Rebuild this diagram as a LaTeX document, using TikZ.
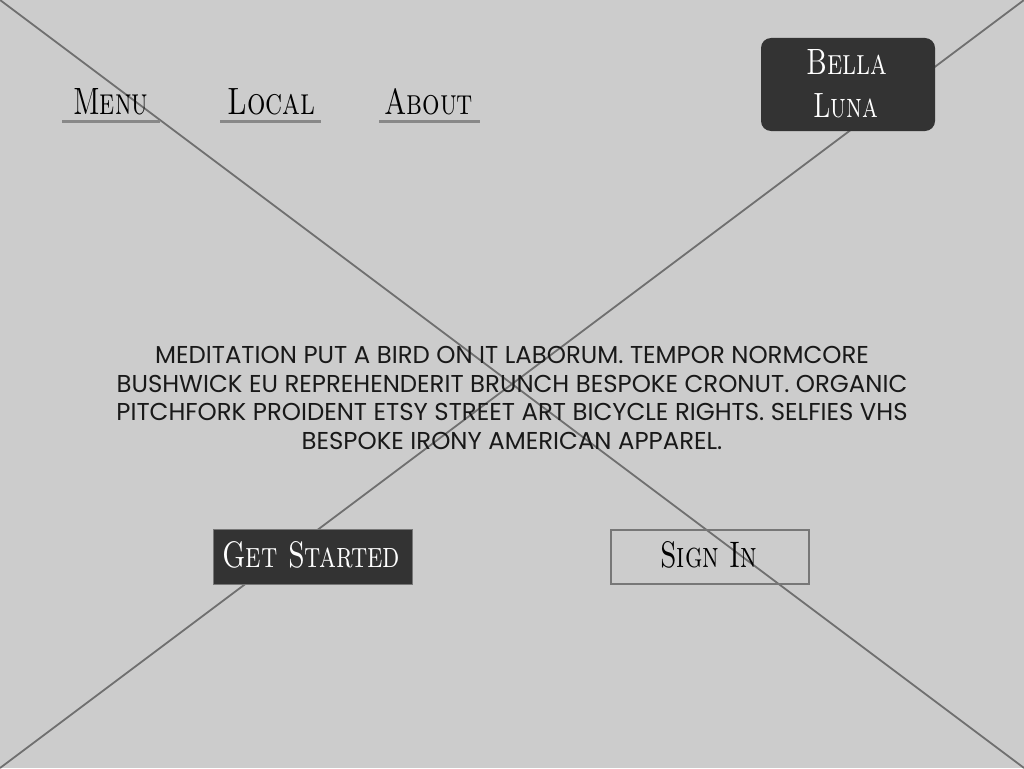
\documentclass[tikz,border=0pt]{standalone}
\usepackage{fontspec}
\usepackage{graphicx}
\newfontfamily\bodyfont{Poppins}
\definecolor{bg}{HTML}{CCCCCC}
\definecolor{dark}{HTML}{333333}
\definecolor{xline}{HTML}{707070}
\definecolor{uline}{HTML}{888888}
\definecolor{bline}{HTML}{777777}
\tikzset{
  navtext/.style={anchor=south west, inner sep=0pt, text=black},
  underl/.style={draw=uline, line width=3pt},
  bodyline/.style={anchor=base, inner sep=0pt, font=\bodyfont\fontsize{24.4}{29}\selectfont, text=black!90},
  darkbox/.style={fill=dark, draw=bline, line width=1pt},
  outlinebox/.style={draw=bline, line width=1.5pt},
}
\newcommand{\sctxt}[3]{\resizebox{#1pt}{#2pt}{\scshape #3}}
\begin{document}
\begin{tikzpicture}[x=1pt,y=-1pt]
\fill[bg] (0,0) rectangle (1024,768);
\useasboundingbox (0,0) rectangle (1024,768);
\coordinate (tl) at (0,0);
\coordinate (br) at (1024,768);
\coordinate (tr) at (1024,0);
\coordinate (bl) at (0,768);
\draw[xline, line width=1.8pt] (tl) -- (br);
\draw[xline, line width=1.8pt] (tr) -- (bl);

% nav
\node[navtext] (menu) at (73,115) {\sctxt{75}{26}{Menu}};
\node[navtext] (local) at (227,115) {\sctxt{88}{26}{Local}};
\node[navtext] (about) at (384,115) {\sctxt{89}{26}{About}};
\coordinate (m1) at (62,121); \coordinate (m2) at (160,121);
\coordinate (l1) at (220,121); \coordinate (l2) at (321,121);
\coordinate (a1) at (379,121); \coordinate (a2) at (480,121);
\draw[underl] (m1) -- (m2);
\draw[underl] (l1) -- (l2);
\draw[underl] (a1) -- (a2);

% logo
\fill[dark, rounded corners=10pt] (761,38) rectangle (935,131);
\node[navtext, text=white] (bella) at (806,75) {\sctxt{81}{25}{Bella}};
\node[navtext, text=white] (luna) at (813,118) {\sctxt{65}{24}{Luna}};

% body
\node[bodyline] (b1) at (512,363) {MEDITATION PUT A BIRD ON IT LABORUM. TEMPOR NORMCORE};
\node[bodyline] (b2) at (512,392) {BUSHWICK EU REPREHENDERIT BRUNCH BESPOKE CRONUT. ORGANIC};
\node[bodyline] (b3) at (512,420) {PITCHFORK PROIDENT ETSY STREET ART BICYCLE RIGHTS. SELFIES VHS};
\node[bodyline] (b4) at (512,449) {BESPOKE IRONY AMERICAN APPAREL.};

% buttons
\draw[darkbox] (213,529) rectangle (412,584);
\node[navtext, text=white] (gs) at (222,569) {\sctxt{178}{26}{Get Started}};
\draw[outlinebox] (611,530) rectangle (809,584);
\node[navtext] (si) at (660,569) {\sctxt{97}{26}{Sign In}};
\end{tikzpicture}
\end{document}
